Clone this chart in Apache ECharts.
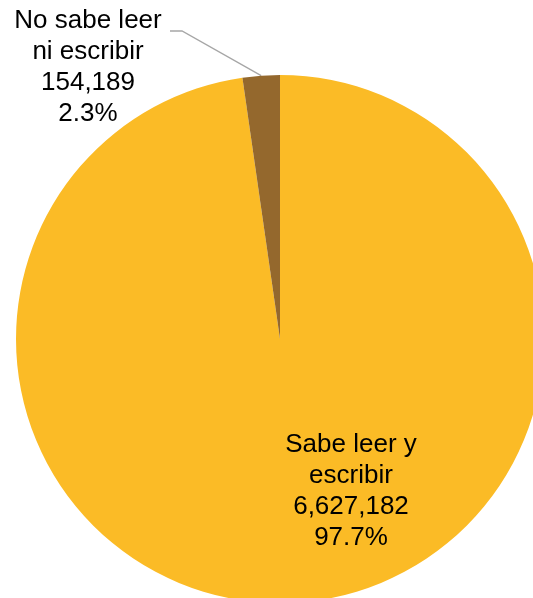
<!DOCTYPE html>
<html>
<head>
<meta charset="utf-8">
<script src="https://cdn.jsdelivr.net/npm/echarts@6/dist/echarts.min.js"></script>
<style>html,body{margin:0;padding:0;background:#fff;}#c{width:533px;height:598px;}</style>
</head>
<body>
<div id="c"></div>
<script>
var categories = ["Sabe leer y\nescribir", "No sabe leer\nni escribir"];
var values = [6627182, 154189];
var colors = ["#FBBB26", "#94682D"];

var chart = echarts.init(document.getElementById('c'), null, {renderer: 'canvas'});
var data = categories.map(function (n, i) {
  return {
    name: n,
    value: values[i],
    itemStyle: {color: colors[i]},
    label: i === 0 ? {position: 'inside'} : {position: 'outside'},
    labelLine: i === 0 ? {show: false} : {show: true, lineStyle: {color: '#A6A6A6', width: 1.3}}
  };
});
chart.setOption({
  animation: false,
  series: [{
    type: 'pie',
    center: [280, 339],
    radius: [0, 264],
    startAngle: 90,
    clockwise: true,
    data: data,
    label: {
      show: true,
      color: '#000',
      fontFamily: 'Liberation Sans, Arial, sans-serif',
      fontSize: 26,
      lineHeight: 31,
      align: 'center',
      formatter: function (p) {
        return p.name + '\n' + p.value.toLocaleString('en-US') + '\n' + p.percent.toFixed(1) + '%';
      }
    },
    labelLayout: function (p) {
      if (p.dataIndex === 0) {
        return {x: 351, y: 491, align: 'center', verticalAlign: 'middle'};
      }
      var start = p.labelLinePoints ? p.labelLinePoints[0] : [262, 76];
      return {
        x: 88, y: 67, align: 'center', verticalAlign: 'middle',
        labelLinePoints: [start, [182, 31], [170, 31]]
      };
    }
  }]
});
</script>
</body>
</html>
